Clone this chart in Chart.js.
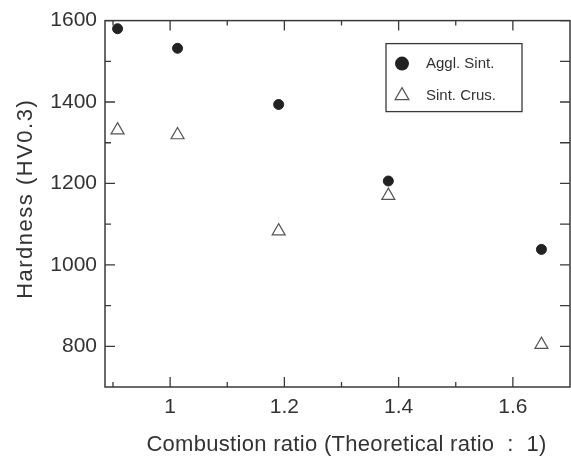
<!DOCTYPE html>
<html>
<head>
<meta charset="utf-8">
<script src="https://cdn.jsdelivr.net/npm/chart.js@4"></script>
<style>
  body { margin: 0; background: #fff; }
</style>
</head>
<body>
<canvas id="hardnessChart" width="571" height="461"></canvas>
<script>
const combustionRatio = [0.908, 1.013, 1.19, 1.382, 1.65];
const agglSint = [1580, 1532, 1394, 1206, 1038];
const sintCrus = [1331, 1319, 1083, 1170, 804];

const xMajorTicks = [1, 1.2, 1.4, 1.6];
const xMinorTicks = [0.9, 1.1, 1.3, 1.5];
const yMajorTicks = [800, 1000, 1200, 1400, 1600];
const yMinorTicks = [900, 1100, 1300, 1500];

const xTitle = 'Combustion ratio (Theoretical ratio  :  1)';
const yTitle = 'Hardness (HV0.3)';

const ink = '#333';
const font = "'Liberation Sans', Arial, sans-serif";

function pairs(xs, ys) {
    return xs.map((v, i) => ({x: v, y: ys[i]}));
}

function isIn(list, v) {
    return list.some(t => Math.abs(t - v) < 1e-6);
}

function marker(ctx, style, x, y, r) {
    ctx.beginPath();
    if (style === 'circle') {
        ctx.arc(x, y, r, 0, Math.PI * 2);
        ctx.fillStyle = '#222';
        ctx.fill();
    } else {
        ctx.moveTo(x, y - r);
        ctx.lineTo(x + Math.sin(Math.PI * 2 / 3) * r, y + r / 2);
        ctx.lineTo(x - Math.sin(Math.PI * 2 / 3) * r, y + r / 2);
        ctx.closePath();
        ctx.strokeStyle = '#555';
        ctx.lineWidth = 1.2;
        ctx.stroke();
    }
}

// frame with inward ticks on all four sides, axis titles, boxed legend
const frameAndLegend = {
    id: 'frameAndLegend',
    afterDatasetsDraw(chart) {
        const {ctx, chartArea: a, scales: {x, y}} = chart;
        ctx.save();
        ctx.strokeStyle = '#3a3a3a';
        ctx.lineWidth = 1.5;
        ctx.strokeRect(a.left, a.top, a.right - a.left, a.bottom - a.top);

        ctx.beginPath();
        xMajorTicks.concat(xMinorTicks).forEach(v => {
            const px = x.getPixelForValue(v);
            const len = isIn(xMajorTicks, v) ? 10 : 5;
            ctx.moveTo(px, a.bottom); ctx.lineTo(px, a.bottom - len);
            ctx.moveTo(px, a.top); ctx.lineTo(px, a.top + len);
        });
        yMajorTicks.concat(yMinorTicks).forEach(v => {
            const py = y.getPixelForValue(v);
            const len = isIn(yMajorTicks, v) ? 10 : 6;
            ctx.moveTo(a.left, py); ctx.lineTo(a.left + len, py);
            ctx.moveTo(a.right, py); ctx.lineTo(a.right - 10, py);
        });
        ctx.lineWidth = 1.3;
        ctx.stroke();

        // axis titles (slightly spaced out like the scan)
        ctx.fillStyle = ink;
        ctx.font = '22px ' + font;
        ctx.textAlign = 'center';
        ctx.textBaseline = 'middle';
        ctx.letterSpacing = '0.3px';
        ctx.fillText(xTitle, (a.left + a.right) / 2 + 9, a.bottom + 58);
        ctx.save();
        ctx.translate(26, (a.top + a.bottom) / 2 - 5);
        ctx.rotate(-Math.PI / 2);
        ctx.letterSpacing = '1.5px';
        ctx.fillText(yTitle, 0, 0);
        ctx.restore();
        ctx.letterSpacing = '0px';

        // legend box
        const bx = a.right - 184, by = a.top + 23, bw = 136, bh = 68;
        ctx.lineWidth = 1.3;
        ctx.strokeStyle = '#3a3a3a';
        ctx.strokeRect(bx, by, bw, bh);
        ctx.font = '15px ' + font;
        ctx.textAlign = 'left';
        chart.data.datasets.forEach((ds, i) => {
            const cy = by + 20 + i * 32;
            marker(ctx, ds.pointStyle, bx + 16, cy, ds.pointStyle === 'circle' ? 7 : 8);
            ctx.fillStyle = ink;
            ctx.fillText(ds.label, bx + 40, cy);
        });
        ctx.restore();
    }
};

new Chart(document.getElementById('hardnessChart'), {
    type: 'scatter',
    data: {
        datasets: [{
            label: 'Aggl. Sint.',
            data: pairs(combustionRatio, agglSint),
            pointStyle: 'circle',
            pointRadius: 5,
            pointHoverRadius: 5,
            backgroundColor: '#222',
            borderColor: '#222',
            borderWidth: 1,
        }, {
            label: 'Sint. Crus.',
            data: pairs(combustionRatio, sintCrus),
            pointStyle: 'triangle',
            pointRadius: 7.5,
            pointHoverRadius: 7.5,
            backgroundColor: 'rgba(255, 255, 255, 0)',
            borderColor: '#555',
            borderWidth: 1.2,
        }]
    },
    options: {
        responsive: false,
        animation: false,
        layout: {
            autoPadding: false,
            padding: {top: 20, right: 1, left: 0, bottom: 0}
        },
        plugins: {
            legend: {display: false},
            tooltip: {enabled: false}
        },
        scales: {
            x: {
                type: 'linear',
                min: 0.886,
                max: 1.7,
                afterFit: scale => {
                    scale.height = 74;
                    scale.paddingLeft = 0;
                    scale.paddingRight = 0;
                },
                border: {display: false},
                grid: {display: false, drawTicks: false},
                ticks: {
                    stepSize: 0.1,
                    autoSkip: false,
                    maxRotation: 0,
                    padding: 8,
                    color: ink,
                    font: {family: font, size: 21},
                    callback: v => isIn(xMajorTicks, v) ? (Math.abs(v - 1) < 1e-6 ? '1' : v.toFixed(1)) : ''
                },
                title: {display: false}
            },
            y: {
                min: 700,
                max: 1600,
                afterFit: scale => { scale.width = 105; },
                border: {display: false},
                grid: {display: false, drawTicks: false},
                ticks: {
                    stepSize: 100,
                    autoSkip: false,
                    padding: 8,
                    color: ink,
                    font: {family: font, size: 21},
                    callback: v => isIn(yMajorTicks, v) ? String(v) : ''
                },
                title: {display: false}
            }
        }
    },
    plugins: [frameAndLegend]
});
</script>
</body>
</html>
